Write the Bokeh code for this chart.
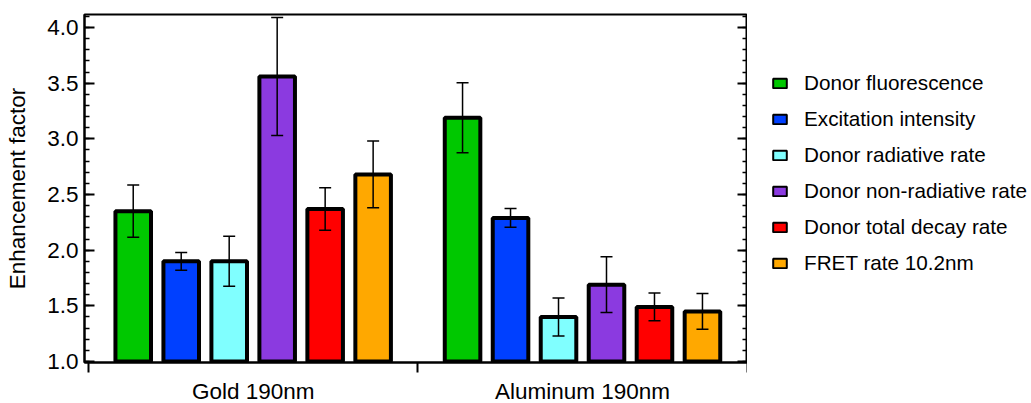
from bokeh.plotting import figure
from bokeh.layouts import row
from bokeh.models import (Range1d, LinearAxis, SingleIntervalTicker, FixedTicker,
                          NumeralTickFormatter, CustomJSTickFormatter, ColumnDataSource,
                          Whisker, TeeHead, Legend, LegendItem)
from bokeh.embed import file_html
from bokeh.resources import INLINE

# ---------------- data ----------------
groups = ["Gold 190nm", "Aluminum 190nm"]
series = ["Donor fluorescence", "Excitation intensity", "Donor radiative rate",
          "Donor non-radiative rate", "Donor total decay rate", "FRET rate 10.2nm"]
colors = ["#00C800", "#0040FF", "#80FFFF", "#8B3AE0", "#FF0000", "#FFA800"]

donor_fluorescence = [2.35, 3.19]
excitation_intensity = [1.90, 2.29]
donor_radiative_rate = [1.90, 1.40]
donor_nonradiative_rate = [3.56, 1.69]
donor_total_decay_rate = [2.37, 1.49]
fret_rate = [2.68, 1.45]

err_donor_fluorescence = [0.235, 0.315]
err_excitation_intensity = [0.08, 0.085]
err_donor_radiative_rate = [0.225, 0.17]
err_donor_nonradiative_rate = [0.53, 0.25]
err_donor_total_decay_rate = [0.19, 0.125]
err_fret_rate = [0.30, 0.16]

values = [donor_fluorescence, excitation_intensity, donor_radiative_rate,
          donor_nonradiative_rate, donor_total_decay_rate, fret_rate]
errors = [err_donor_fluorescence, err_excitation_intensity, err_donor_radiative_rate,
          err_donor_nonradiative_rate, err_donor_total_decay_rate, err_fret_rate]

# ---------------- main figure ----------------
FONT = "Liberation Sans"
p = figure(frame_width=663, frame_height=348, output_backend="svg", toolbar_location=None,
           x_range=Range1d(-0.0122, 2.001), y_range=Range1d(0.991, 4.117),
           x_axis_location=None, y_axis_location=None,
           min_border_left=84, min_border_right=0, min_border_top=14,
           min_border_bottom=0)
p.grid.visible = False
p.background_fill_color = "white"
p.border_fill_color = "white"
p.outline_line_color = "black"
p.outline_line_width = 2

group_centers = [i + 0.5 for i in range(len(groups))]
step = 0.1457
bar_w = 0.108
baseline = 1.0

for i, (name, vals, errs, col) in enumerate(zip(series, values, errors, colors)):
    xs = [c + (i - 2.5) * step for c in group_centers]
    src = ColumnDataSource(dict(x=xs, top=vals,
                                upper=[v + e for v, e in zip(vals, errs)],
                                lower=[v - e for v, e in zip(vals, errs)]))
    p.vbar(x="x", top="top", bottom=baseline, width=bar_w, source=src,
           fill_color=col, line_color="black", line_width=4)
    w = Whisker(base="x", upper="upper", lower="lower", source=src, dimension="height",
                line_color="black", line_width=1.5, level="overlay",
                upper_head=TeeHead(size=12, line_width=1.5, line_color="black"),
                lower_head=TeeHead(size=12, line_width=1.5, line_color="black"))
    p.add_layout(w)

# ---------------- axes ----------------
yl = LinearAxis(ticker=SingleIntervalTicker(interval=0.5, num_minor_ticks=5),
                formatter=NumeralTickFormatter(format="0.0"),
                axis_label="Enhancement factor")
yl.axis_line_width = 2
yl.major_tick_in = 10
yl.major_tick_out = 0
yl.minor_tick_in = 5
yl.minor_tick_out = 0
yl.major_tick_line_width = 2
yl.minor_tick_line_width = 1.5
yl.major_label_standoff = 6
yl.major_label_text_font = FONT
yl.major_label_text_font_size = "22.5px"
yl.major_label_text_color = "black"
yl.axis_label_text_font = FONT
yl.axis_label_text_font_size = "22.5px"
yl.axis_label_text_font_style = "normal"
yl.axis_label_text_color = "black"
yl.axis_label_standoff = 14
p.add_layout(yl, "left")

yr = LinearAxis(ticker=SingleIntervalTicker(interval=0.5, num_minor_ticks=5),
                formatter=CustomJSTickFormatter(code="return ''"))
yr.axis_line_width = 2
yr.major_tick_in = 10
yr.major_tick_out = 0
yr.minor_tick_in = 5
yr.minor_tick_out = 0
yr.major_tick_line_width = 2
yr.minor_tick_line_width = 1.5
yr.major_label_standoff = 0
yr.major_label_text_font_size = "1px"
p.add_layout(yr, "right")

xb = LinearAxis(ticker=FixedTicker(ticks=group_centers, minor_ticks=[0, 1, 2]),
                formatter=CustomJSTickFormatter(args=dict(names=groups),
                                                code="return names[Math.round(tick - 0.5)]"))
xb.axis_line_width = 2
xb.major_tick_in = 0
xb.major_tick_out = 0
xb.major_tick_line_color = None
xb.minor_tick_in = 0
xb.minor_tick_out = 10
xb.minor_tick_line_width = 2
xb.major_label_standoff = 6
xb.major_label_text_line_height = 1.0
xb.major_label_text_font = FONT
xb.major_label_text_font_size = "22.5px"
xb.major_label_text_color = "black"
p.add_layout(xb, "below")

# ---------------- legend figure ----------------
LEG_W = 282
q = figure(width=LEG_W, height=403, output_backend="svg", toolbar_location=None,
           x_range=Range1d(0, 1), y_range=Range1d(0, 1),
           x_axis_location=None, y_axis_location=None,
           min_border=0)
q.grid.visible = False
q.outline_line_color = None
q.background_fill_color = "white"
q.border_fill_color = "white"

items = []
for name, col in zip(series, colors):
    r = q.vbar(x=[float("nan")], top=[float("nan")], bottom=[float("nan")], width=0.1,
               fill_color=col, line_color="black", line_width=2)
    items.append(LegendItem(label=name, renderers=[r]))
legend = Legend(items=items, location=(24, 84), border_line_color=None,
                background_fill_alpha=0, padding=0, margin=0,
                glyph_width=17, glyph_height=12, label_height=24, spacing=12,
                label_standoff=16, label_text_font=FONT,
                label_text_font_size="20.7px", label_text_color="black")
q.add_layout(legend, "center")

layout = row(p, q, spacing=0)
open("out.html", "w").write(file_html(layout, INLINE))
